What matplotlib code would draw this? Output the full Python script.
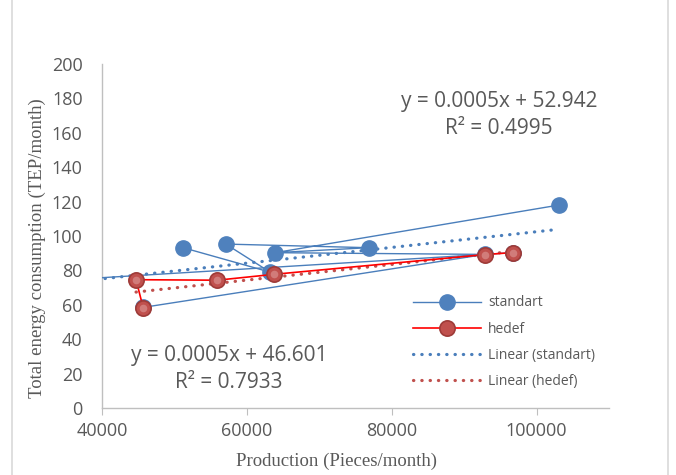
import numpy as np
import matplotlib
matplotlib.use("Agg")
import matplotlib.pyplot as plt
from matplotlib.lines import Line2D

# standart series (unique points) and the order the lines connect them in
standart_x = [37000, 45700, 51200, 57100, 63200, 63900, 76800, 92900, 103100, 96800]
standart_y = [75.0, 58.5, 93.2, 95.3, 79.0, 90.3, 93.2, 89.3, 118.0, 90.4]
standart_order = [[8, 5, 6, 3, 4, 2], [1, 7, 0], [5, 7, 9]]

# hedef series
hedef_x = [45700, 44700, 55900, 63700, 92900, 96800]
hedef_y = [58.0, 74.6, 74.3, 77.7, 89.2, 90.4]

eq_standart = ["y = 0.0005x + 52.942", "R² = 0.4995"]
eq_hedef = ["y = 0.0005x + 46.601", "R² = 0.7933"]

blue = "#4A7EBB"
red_line = "#FF0000"
red_mark = "#C0504D"
grey_txt = "#595959"
axis_col = "#BFBFBF"

fig = plt.figure(figsize=(6.76, 4.75), dpi=100)
ax = fig.add_axes([102 / 676, 1 - 408 / 475, (609 - 102) / 676, (408 - 64) / 475])

sx = np.array(standart_x, dtype=float)
sy = np.array(standart_y, dtype=float)
hx = np.array(hedef_x, dtype=float)
hy = np.array(hedef_y, dtype=float)

# linear trendlines over the data range
for x, y, c in [(sx, sy, blue), (hx, hy, red_mark)]:
    k, b = np.polyfit(x, y, 1)
    xt = np.array([x.min(), x.max()])
    ax.plot(xt, k * xt + b, color=c, lw=2.3, linestyle=(0, (0.1, 2.5)),
            dash_capstyle="round", zorder=2)

# standart lines + markers
for idx in standart_order:
    ax.plot(sx[idx], sy[idx], color=blue, lw=1.0, zorder=3)
ax.plot(sx, sy, linestyle="none", marker="o", ms=11, mfc="#4F81BD",
        mec="#4F81BD", zorder=4)

# hedef line + glossy markers
ax.plot(hx, hy, color=red_line, lw=1.2, zorder=5)
ax.plot(hx, hy, linestyle="none", marker="o", ms=11, mfc=red_mark,
        mec="#9E3B38", mew=1.2, zorder=6)
ax.plot(hx, hy, linestyle="none", marker="o", ms=5.5, mfc="#E3A9A7",
        mec="none", alpha=0.5, zorder=7)

ax.set_xlim(40000, 110000)
ax.set_ylim(0, 200)
ax.set_xticks([40000, 60000, 80000, 100000])
ax.set_yticks(range(0, 201, 20))
for s in ["top", "right"]:
    ax.spines[s].set_visible(False)
for s in ["left", "bottom"]:
    ax.spines[s].set_color(axis_col)
    ax.spines[s].set_linewidth(1.0)
ax.tick_params(axis="x", length=5, color=axis_col, labelsize=13,
               labelcolor=grey_txt, pad=5)
ax.tick_params(axis="y", length=0, labelsize=13, labelcolor=grey_txt, pad=14)
for lab in ax.get_xticklabels() + ax.get_yticklabels():
    lab.set_family("Open Sans")

ax.set_xlabel("Production (Pieces/month)", family="Liberation Serif",
              fontsize=13.5, color=grey_txt)
ax.set_ylabel("Total energy consumption (TEP/month)", family="Liberation Serif",
              fontsize=13.5, color=grey_txt)
ax.xaxis.set_label_coords((336 - 102) / 507, -(453 - 408) / 344)
ax.yaxis.set_label_coords(-(102 - 46) / 507, (408 - 248) / 344)

# trendline equations
fig.text(499 / 676, 1 - 101 / 475, eq_standart[0], ha="center", va="center",
         fontsize=15, color=grey_txt, family="Open Sans")
fig.text(499 / 676, 1 - 128 / 475, eq_standart[1], ha="center", va="center",
         fontsize=15, color=grey_txt, family="Open Sans")
fig.text(229 / 676, 1 - 356 / 475, eq_hedef[0], ha="center", va="center",
         fontsize=15, color=grey_txt, family="Open Sans")
fig.text(229 / 676, 1 - 383 / 475, eq_hedef[1], ha="center", va="center",
         fontsize=15, color=grey_txt, family="Open Sans")

handles = [
    Line2D([], [], color=blue, lw=1.0, marker="o", ms=11, mfc="#4F81BD", mec="#4F81BD"),
    Line2D([], [], color=red_line, lw=1.2, marker="o", ms=11, mfc=red_mark,
           mec="#9E3B38", mew=1.2),
    Line2D([], [], color=blue, lw=2.3, linestyle=(0, (0.1, 2.5)), dash_capstyle="round"),
    Line2D([], [], color=red_mark, lw=2.3, linestyle=(0, (0.1, 2.5)), dash_capstyle="round"),
]
labels = ["standart", "hedef", "Linear (standart)", "Linear (hedef)"]
leg = fig.legend(handles, labels, loc="upper left",
                 bbox_to_anchor=(400 / 676, 1 - 283 / 475), frameon=False,
                 handlelength=4.95, handletextpad=0.5, labelspacing=0.8,
                 prop={"family": "Open Sans", "size": 10})
for t in leg.get_texts():
    t.set_color(grey_txt)

# outer chart border
fig.add_artist(Line2D([12 / 676, 12 / 676], [0, 1], color="#D9D9D9", lw=1.2))
fig.add_artist(Line2D([668 / 676, 668 / 676], [0, 1], color="#D9D9D9", lw=1.2))

fig.savefig("out.png", dpi=100)
